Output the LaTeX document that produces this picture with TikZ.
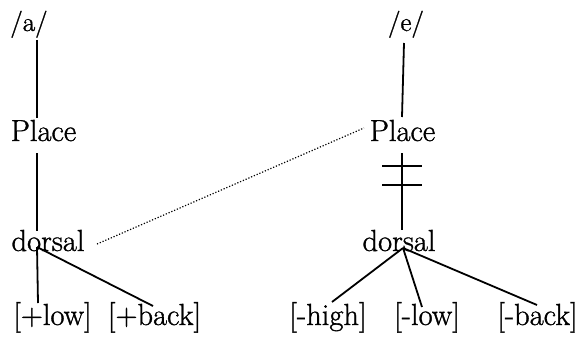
\documentclass[tikz,border=0pt]{standalone}
\usepackage{fontspec}
\newfontfamily\labelface[FakeBold=1.1]{Latin Modern Roman}
\begin{document}
\begin{tikzpicture}[x=1pt,y=-1pt,
  lbl/.style={anchor=base,inner sep=0pt,font=\labelface\fontsize{30.5}{36}\selectfont},
  seg/.style={anchor=base,inner sep=0pt,font=\labelface\fontsize{27}{32}\selectfont},
  branch/.style={line width=1.8pt},
  assoc/.style={line width=1.2pt,dash pattern=on 1.2pt off 1.8pt},
  delink/.style={line width=1.8pt}]
\useasboundingbox (0,0) rectangle (587,338);

% left tree: /a/
\node[seg] (a)      at (29,31)    {/a/};
\node[lbl] (placeL) at (43.5,141) {Place};
\node[lbl] (dorsL)  at (48,251)   {dorsal};
\node[lbl] (lowL)   at (52.5,325) {[+low]};
\node[lbl] (backL)  at (154.5,325) {[+back]};

% right tree: /e/
\node[seg] (e)      at (406,31)   {/e/};
\node[lbl] (placeR) at (402.5,141) {Place};
\node[lbl] (dorsR)  at (399,251)  {dorsal};
\node[lbl] (highR)  at (328,325)  {[-high]};
\node[lbl] (lowR)   at (427,325)  {[-low]};
\node[lbl] (backR)  at (537.5,325) {[-back]};

% attachment points of the association lines
\coordinate (a-dn)     at (37,40);
\coordinate (pL-up)    at (37,118);
\coordinate (pL-dn)    at (37,153);
\coordinate (dL-up)    at (37,231);
\coordinate (dL-root)  at (37,247);
\coordinate (lowL-up)  at (38,303);
\coordinate (backL-up) at (153,306);
\coordinate (dL-dot)   at (97,244);
\coordinate (pR-dot)   at (364,128);
\coordinate (e-dn)     at (404,43);
\coordinate (pR-up)    at (402,117);
\coordinate (pR-dn)    at (402,153);
\coordinate (dR-up)    at (402,230);
\coordinate (dR-root)  at (403,248);
\coordinate (highR-up) at (332,302);
\coordinate (lowR-up)  at (422,307);
\coordinate (backR-up) at (537,305);
\coordinate (bar1-l) at (382,166);
\coordinate (bar1-r) at (422,166);
\coordinate (bar2-l) at (382,185);
\coordinate (bar2-r) at (422,185);

% left tree lines
\draw[branch] (a-dn) -- (pL-up);
\draw[branch] (pL-dn) -- (dL-up);
\draw[branch] (dL-root) -- (lowL-up);
\draw[branch] (dL-root) -- (backL-up);

% right tree lines
\draw[branch] (e-dn) -- (pR-up);
\draw[branch] (pR-dn) -- (dR-up);
\draw[delink] (bar1-l) -- (bar1-r);
\draw[delink] (bar2-l) -- (bar2-r);
\draw[branch] (dR-root) -- (highR-up);
\draw[branch] (dR-root) -- (lowR-up);
\draw[branch] (dR-root) -- (backR-up);

% spreading of dorsal to the new Place node
\draw[assoc] (dL-dot) -- (pR-dot);
\end{tikzpicture}
\end{document}
